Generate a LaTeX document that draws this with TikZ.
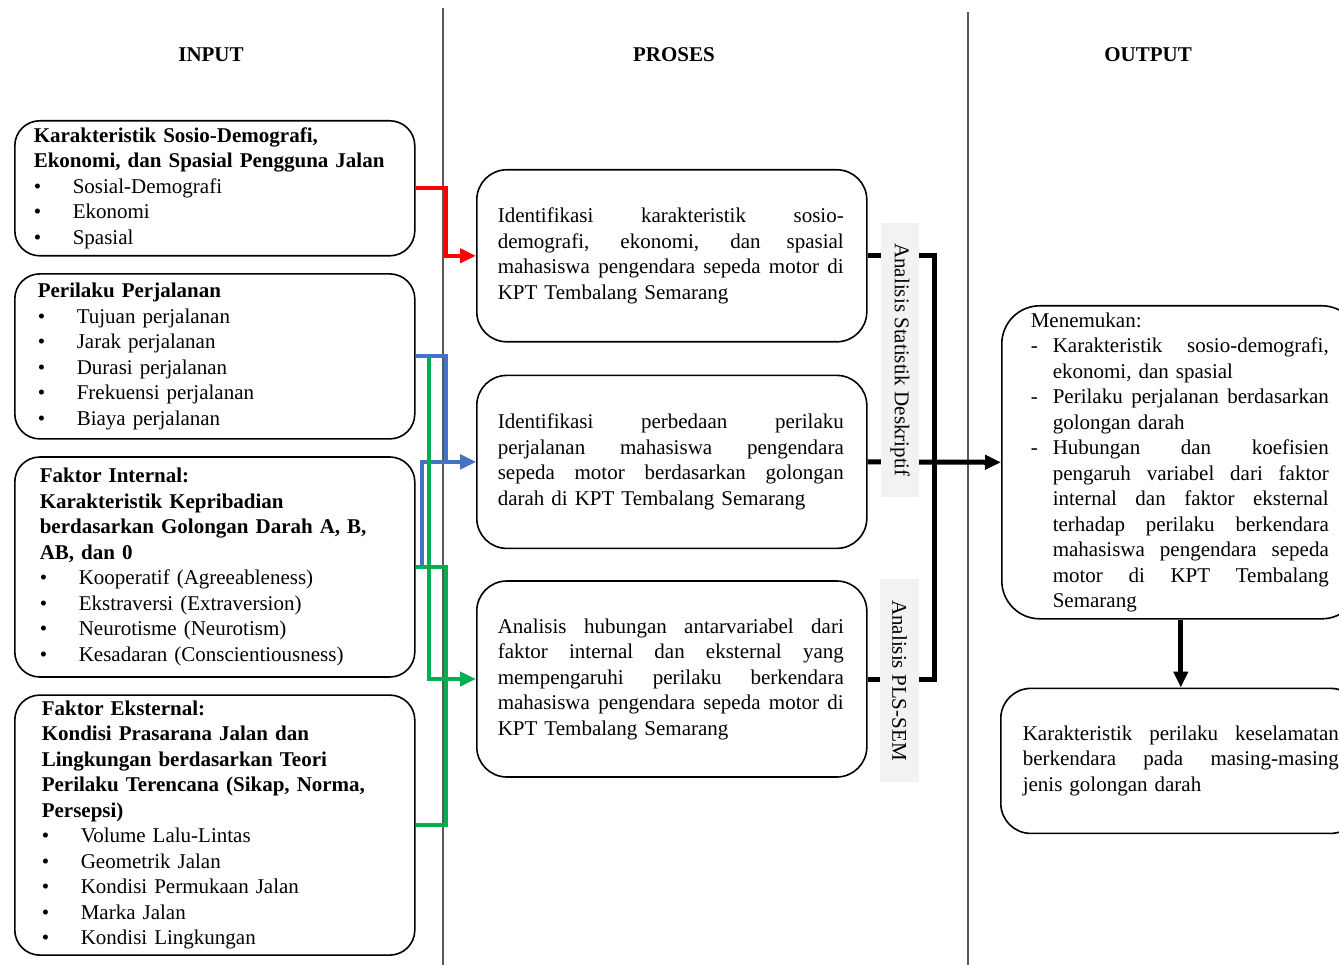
\documentclass[tikz,border=0pt]{standalone}
\usepackage{fontspec}
\setmainfont{Liberation Serif}
\usepackage{tikz}
\usetikzlibrary{arrows.meta, positioning}
\definecolor{colorSosio}{HTML}{FF0000}
\definecolor{colorTravel}{HTML}{4472C4}
\definecolor{colorFactor}{HTML}{00B050}
\definecolor{colorMethod}{HTML}{F2F2F2}
\newcommand{\itm}{\makebox[39pt][l]{\textbullet}}
\newcommand{\jst}[2]{\leavevmode\hbox to #1{\spaceskip=.25em plus 10em\relax #2}}
\newcommand{\dsh}{\makebox[22pt][l]{-}}
\newcommand{\ind}{\hspace*{22pt}}

\begin{document}
\begin{tikzpicture}[x=1pt, y=-1pt, >={Triangle[length=16pt, width=14pt]}, node distance=16.5pt,
  every node/.style={font=\fontsize{21}{25.5}\selectfont, inner sep=0pt},
  inbox/.style={draw, line width=1.6pt, rounded corners=25pt, minimum width=400pt, align=left},
  procbox/.style={draw, line width=1.6pt, rounded corners=30pt, minimum width=390pt, text width=348pt, align=left},
  outbox/.style={draw, line width=1.6pt, rounded corners=38pt, align=left},
  method/.style={fill=colorMethod, rotate=-90, minimum height=38pt},
  head/.style={font=\fontsize{21}{25.5}\selectfont\bfseries},
  link/.style={line width=4pt},
  flow/.style={line width=5pt, black}]
\useasboundingbox (0,0) rectangle (1339,965);
\draw[black!65, line width=1.2pt] (443,8) -- (443,965);
\draw[black!65, line width=1.2pt] (968,12) -- (968,965);
\node[head] (hin) at (211,55) {INPUT};
\node[head] (hproc) at (674,55) {PROSES};
\node[head] (hout) at (1148,55) {OUTPUT};
\node[inbox, text width=362pt, minimum height=135pt, anchor=north west] (sosio) at (14,120) {\textbf{Karakteristik Sosio-Demografi,}\\ \textbf{Ekonomi, dan Spasial Pengguna Jalan}\\ \itm Sosial-Demografi\\ \itm Ekonomi\\ \itm Spasial};
\node[inbox, text width=354pt, minimum height=165pt, below=of sosio] (travel) {\textbf{Perilaku Perjalanan}\\ \itm Tujuan perjalanan\\ \itm Jarak perjalanan\\ \itm Durasi perjalanan\\ \itm Frekuensi perjalanan\\ \itm Biaya perjalanan};
\node[inbox, text width=350pt, minimum height=220pt, below=of travel] (internal) {\textbf{Faktor Internal:}\\ \textbf{Karakteristik Kepribadian}\\ \textbf{berdasarkan Golongan Darah A, B,}\\ \textbf{AB, dan 0}\\ \itm Kooperatif (Agreeableness)\\ \itm Ekstraversi (Extraversion)\\ \itm Neurotisme (Neurotism)\\ \itm Kesadaran (Conscientiousness)};
\node[inbox, text width=346pt, minimum height=260pt, below=of internal] (external) {\textbf{Faktor Eksternal:}\\ \textbf{Kondisi Prasarana Jalan dan}\\ \textbf{Lingkungan berdasarkan Teori}\\ \textbf{Perilaku Terencana (Sikap, Norma,}\\ \textbf{Persepsi)}\\ \itm Volume Lalu-Lintas\\ \itm Geometrik Jalan\\ \itm Kondisi Permukaan Jalan\\ \itm Marka Jalan\\ \itm Kondisi Lingkungan};
\node[procbox, minimum height=172pt, anchor=north west] (ident1) at (476,169) {\jst{346pt}{Identifikasi karakteristik sosio-}\\ \jst{346pt}{demografi, ekonomi, dan spasial}\\ \jst{346pt}{mahasiswa pengendara sepeda motor di}\\ KPT Tembalang Semarang};
\node[procbox, minimum height=173pt, below=32pt of ident1] (ident2) {\jst{346pt}{Identifikasi perbedaan perilaku}\\ \jst{346pt}{perjalanan mahasiswa pengendara}\\ \jst{346pt}{sepeda motor berdasarkan golongan}\\ darah di KPT Tembalang Semarang};
\node[procbox, minimum height=196pt, below=31pt of ident2] (ident3) {\jst{346pt}{Analisis hubungan antarvariabel dari}\\ \jst{346pt}{faktor internal dan eksternal yang}\\ \jst{346pt}{mempengaruhi perilaku berkendara}\\ \jst{346pt}{mahasiswa pengendara sepeda motor di}\\ KPT Tembalang Semarang};
\node[outbox, minimum width=358pt, text width=300pt, minimum height=313pt, anchor=north west] (find) at (1001,305) {Menemukan:\\ \dsh\jst{276pt}{Karakteristik sosio-demografi,}\\ \ind ekonomi, dan spasial\\ \dsh\jst{276pt}{Perilaku perjalanan berdasarkan}\\ \ind golongan darah\\ \dsh\jst{276pt}{Hubungan dan koefisien}\\ \ind\jst{276pt}{pengaruh variabel dari faktor}\\ \ind\jst{276pt}{internal dan faktor eksternal}\\ \ind\jst{276pt}{terhadap perilaku berkendara}\\ \ind\jst{276pt}{mahasiswa pengendara sepeda}\\ \ind\jst{276pt}{motor di KPT Tembalang}\\ \ind Semarang};
\node[outbox, rounded corners=30pt, minimum width=360pt, text width=316pt, minimum height=145pt, below=68pt of find] (result) {\jst{316pt}{Karakteristik perilaku keselamatan}\\ \jst{316pt}{berkendara pada masing-masing}\\ jenis golongan darah};
\draw[link, colorSosio, ->] (sosio.east) -- ++(30,0) |- (ident1.west);
\draw[link, colorTravel, ->] (travel.east) -- ++(30,0) |- (ident2.west);
\draw[link, colorTravel, ->] (internal.east) -- ++(6,0) |- (ident2.west);
\draw[link, colorFactor, ->] (travel.east) ++(13,2) |- (ident3.west);
\draw[link, colorFactor] (internal.east) -- ++(30,0) |- (external.east);
\draw[flow] (ident1.east) -- ++(67,0) |- (ident3.east);
\draw[flow, ->] (ident2.east) -- (find.west);
\draw[flow, ->] (find.south) -- (result.north);
\node[method, minimum width=274pt] (stat) at (900,360) {Analisis Statistik Deskriptif};
\node[method, minimum width=203pt, minimum height=39pt] (pls) at (899.5,680.5) {Analisis PLS-SEM};
\end{tikzpicture}
\end{document}
